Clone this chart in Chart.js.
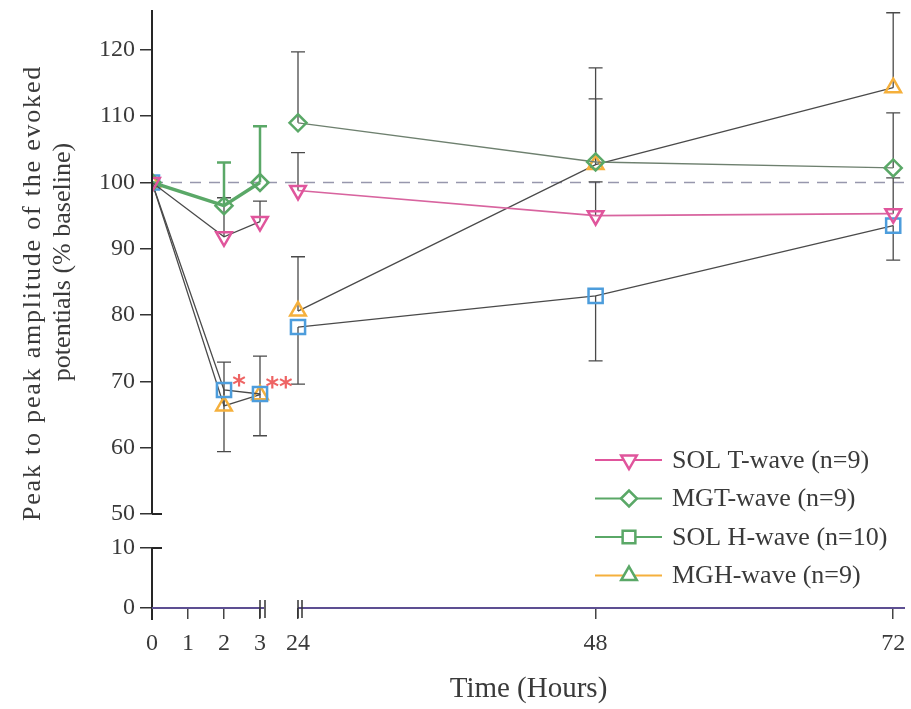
<!DOCTYPE html>
<html>
<head>
<meta charset="utf-8">
<title>Evoked potentials over time</title>
<script src="https://cdn.jsdelivr.net/npm/chart.js@4.4.0/dist/chart.umd.min.js"></script>
<style>
  html, body { margin: 0; padding: 0; background: #fff; }
  canvas { display: block; }
</style>
</head>
<body>
<canvas id="myChart" width="911" height="709"></canvas>
<script>
// time points (hours) and axis ticks
const hours = [0, 2, 3, 24, 48, 72];
const hourTicks = [0, 1, 2, 3, 24, 48, 72];
const valueTicks = [0, 10, 50, 60, 70, 80, 90, 100, 110, 120];

// % of baseline, with one-sided error bars
const solT = [100, 91.8, 94.1, 98.8, 95.0, 95.3];
const solTUp = [null, 97.7, 97.2, 104.5, 100.1, 100.7];
const mgT = [100, 96.5, 100.0, 109.0, 103.1, 102.2];
const mgTUp = [null, 103.0, 108.5, 119.7, 117.3, 110.5];
const solH = [100, 68.7, 68.1, 78.2, 82.9, 93.5];
const solHDown = [null, 59.4, 61.8, 69.6, 73.1, 88.3];
const mgH = [100, 66.3, 68.0, 80.6, 102.7, 114.3];
const mgHUp = [null, 72.9, 73.8, 88.8, 112.6, 125.6];

const seriesNames = ['SOL T-wave (n=9)', 'MGT-wave (n=9)', 'SOL H-wave (n=10)', 'MGH-wave (n=9)'];
const yTitleLines = ['Peak to peak amplitude of the evoked', 'potentials (% baseline)'];
const xTitle = 'Time (Hours)';

const PINK = '#e0559c';
const GREEN = '#5aa867';
const BLUE = '#4d9ddc';
const ORANGE = '#f5b03c';
const GREY = '#4a4a4a';
const TEXT = '#3a3a3a';
const FONT = "'Liberation Serif', 'Times New Roman', serif";

// both axes are broken: 0-3 h is stretched, 10-50 % is cut out
function mapHour(t) {
    return t <= 3 ? t * 36 : 146 + (t - 24) * 12.4;
}
function mapValue(v) {
    return v <= 10 ? v * 6 : 94 + (v - 50) * 6.63;
}

function toPoints(values) {
    let pts = [];
    hours.forEach((h, i) => {
        if (h === 24) pts.push({ x: mapHour(3) + 19, y: null }); // gap across the break
        pts.push({ x: mapHour(h), y: mapValue(values[i]) });
    });
    return pts;
}

const EARLY = mapHour(3) + 1;
function earlyLate(early, late) {
    return ctx => (ctx.p0.parsed.x < EARLY ? early : late);
}

const brokenAxes = {
    id: 'brokenAxes',
    beforeDatasetsDraw(chart) {
        const ctx = chart.ctx;
        const xs = chart.scales.x, ys = chart.scales.y;
        const area = chart.chartArea;
        ctx.save();

        // baseline at 100 %
        ctx.strokeStyle = '#9797ad';
        ctx.lineWidth = 1.5;
        ctx.setLineDash([11, 8]);
        let yb = ys.getPixelForValue(mapValue(100));
        ctx.beginPath();
        ctx.moveTo(area.left, yb);
        ctx.lineTo(area.right, yb);
        ctx.stroke();
        ctx.setLineDash([]);

        // error bars
        chart.data.datasets.forEach(ds => {
            ds.errorTo.forEach((e, i) => {
                if (e === null) return;
                let x = xs.getPixelForValue(mapHour(hours[i]));
                let y0 = ys.getPixelForValue(mapValue(ds.values[i]));
                let y1 = ys.getPixelForValue(mapValue(e));
                let early = hours[i] <= 3 && ds.errorEarlyColor;
                ctx.strokeStyle = early ? ds.errorEarlyColor : GREY;
                ctx.lineWidth = early ? 2.5 : 1.3;
                ctx.beginPath();
                ctx.moveTo(x, y0);
                ctx.lineTo(x, y1);
                ctx.moveTo(x - 7, y1);
                ctx.lineTo(x + 7, y1);
                ctx.stroke();
            });
        });
        ctx.restore();
    },
    afterDraw(chart) {
        const ctx = chart.ctx;
        const xs = chart.scales.x, ys = chart.scales.y;
        const area = chart.chartArea;
        const left = area.left, bottom = area.bottom;
        ctx.save();

        // y axis, cut between 10 and 50
        let y50 = ys.getPixelForValue(mapValue(50));
        let y10 = ys.getPixelForValue(mapValue(10));
        ctx.strokeStyle = '#262626';
        ctx.lineWidth = 2;
        ctx.beginPath();
        ctx.moveTo(left, area.top);
        ctx.lineTo(left, y50);
        ctx.moveTo(left, y50);
        ctx.lineTo(left + 10, y50);
        ctx.moveTo(left, y10);
        ctx.lineTo(left + 10, y10);
        ctx.moveTo(left, y10);
        ctx.lineTo(left, bottom + 12);
        ctx.stroke();

        // x axis, cut between 3 and 24 h
        let x3 = xs.getPixelForValue(mapHour(3));
        let x24 = xs.getPixelForValue(mapHour(24));
        ctx.strokeStyle = '#5d4f92';
        ctx.beginPath();
        ctx.moveTo(left, bottom);
        ctx.lineTo(x3 + 4, bottom);
        ctx.moveTo(x24, bottom);
        ctx.lineTo(area.right, bottom);
        ctx.stroke();

        ctx.strokeStyle = '#333';
        ctx.lineWidth = 1.5;
        ctx.beginPath();
        [x3, x3 + 5, x24, x24 + 4].forEach(x => {
            ctx.moveTo(x, bottom - 8);
            ctx.lineTo(x, bottom + 10);
        });
        ctx.stroke();

        // significance marks
        ctx.fillStyle = '#ee6464';
        ctx.font = 'bold 26px DejaVu Sans';
        ctx.textAlign = 'center';
        ctx.textBaseline = 'middle';
        ctx.fillText('*', xs.getPixelForValue(mapHour(2)) + 15, ys.getPixelForValue(mapValue(solH[1])) - 3);
        ctx.fillText('**', xs.getPixelForValue(mapHour(3)) + 19, ys.getPixelForValue(mapValue(solH[2])) - 5);

        // y axis title, two rotated lines
        ctx.fillStyle = TEXT;
        ctx.font = '26px ' + FONT;
        [[33, 293, '1.8px'], [63, 262, '0px']].forEach((p, i) => {
            ctx.save();
            ctx.translate(p[0], p[1]);
            ctx.rotate(-Math.PI / 2);
            ctx.letterSpacing = p[2];
            ctx.fillText(yTitleLines[i], 0, 0);
            ctx.restore();
        });

        // legend
        const rows = [
            { line: PINK, mark: PINK, style: 'triangle', rot: 180, r: 9 },
            { line: GREEN, mark: GREEN, style: 'rectRot', rot: 0, r: 8 },
            { line: GREEN, mark: GREEN, style: 'rect', rot: 0, r: 9 },
            { line: ORANGE, mark: GREEN, style: 'triangle', rot: 0, r: 9 }
        ];
        const lx = area.right - 310, ly = area.bottom - 148;
        ctx.textAlign = 'left';
        ctx.font = '26px ' + FONT;
        rows.forEach((row, i) => {
            let y = ly + i * 38.5;
            ctx.strokeStyle = row.line;
            ctx.lineWidth = 2;
            ctx.beginPath();
            ctx.moveTo(lx, y);
            ctx.lineTo(lx + 67, y);
            ctx.stroke();
            ctx.fillStyle = '#fff';
            ctx.strokeStyle = row.mark;
            ctx.lineWidth = 2.5;
            Chart.helpers.drawPoint(ctx, { pointStyle: row.style, radius: row.r, rotation: row.rot, borderWidth: 2.5 }, lx + 34, y);
            ctx.fillStyle = TEXT;
            ctx.fillText(seriesNames[i], lx + 77, y + 1);
        });
        ctx.restore();
    }
};

function makeDataset(name, values, errorTo, opts) {
    return Object.assign({
        label: name,
        data: toPoints(values),
        values: values,
        errorTo: errorTo,
        spanGaps: false,
        pointBackgroundColor: 'rgba(255,255,255,0)',
        pointBorderWidth: 2.5,
        borderWidth: 1.3,
        tension: 0
    }, opts);
}

function createChart() {
    let ctx = document.getElementById('myChart').getContext('2d');
    let chart = new Chart(ctx, {
        type: 'line',
        data: {
            datasets: [
                makeDataset(seriesNames[0], solT, solTUp, {
                    pointStyle: 'triangle', rotation: 180, pointRadius: 9,
                    pointBorderColor: PINK,
                    borderColor: GREY,
                    segment: { borderColor: earlyLate(GREY, '#d8649f'), borderWidth: earlyLate(1.3, 1.6) }
                }),
                makeDataset(seriesNames[1], mgT, mgTUp, {
                    pointStyle: 'rectRot', pointRadius: 8.5,
                    pointBorderColor: GREEN,
                    borderColor: GREEN,
                    errorEarlyColor: GREEN,
                    segment: { borderColor: earlyLate(GREEN, '#6e806f'), borderWidth: earlyLate(3.5, 1.4) }
                }),
                makeDataset(seriesNames[2], solH, solHDown, {
                    pointStyle: 'rect', pointRadius: 10,
                    pointBorderColor: BLUE,
                    borderColor: GREY
                }),
                makeDataset(seriesNames[3], mgH, mgHUp, {
                    pointStyle: 'triangle', pointRadius: 9,
                    pointBorderColor: ORANGE,
                    borderColor: GREY
                })
            ]
        },
        options: {
            responsive: false,
            animation: false,
            layout: { autoPadding: false, padding: { top: 10, right: 6, left: 0, bottom: 0 } },
            plugins: { legend: { display: false }, tooltip: { enabled: false } },
            scales: {
                x: {
                    type: 'linear',
                    min: 0,
                    max: 753,
                    afterBuildTicks: scale => { scale.ticks = hourTicks.map(h => ({ value: mapHour(h) })); },
                    afterFit: scale => {
                        scale.height = 101;
                        scale.paddingLeft = 0;
                        scale.paddingRight = 0;
                    },
                    border: { display: false },
                    grid: { drawOnChartArea: false, tickLength: 11, color: '#444', lineWidth: 1.5 },
                    ticks: {
                        autoSkip: false, maxRotation: 0, padding: 10,
                        color: TEXT, font: { family: FONT, size: 24 },
                        callback: (v, i) => hourTicks[i]
                    },
                    title: {
                        display: true, text: xTitle, color: TEXT,
                        font: { family: FONT, size: 29 }, padding: { top: 0, bottom: 2 }
                    }
                },
                y: {
                    type: 'linear',
                    min: 0,
                    max: 598,
                    afterBuildTicks: scale => { scale.ticks = valueTicks.map(v => ({ value: mapValue(v) })); },
                    afterFit: scale => {
                        scale.width = 152;
                        scale.paddingTop = 0;
                        scale.paddingBottom = 0;
                    },
                    border: { display: false },
                    grid: { drawOnChartArea: false, tickLength: 12, color: '#333', lineWidth: 1.5 },
                    ticks: {
                        autoSkip: false, padding: 5,
                        color: TEXT, font: { family: FONT, size: 24 },
                        callback: (v, i) => valueTicks[i]
                    }
                }
            }
        },
        plugins: [brokenAxes]
    });
}

createChart();
</script>
</body>
</html>
